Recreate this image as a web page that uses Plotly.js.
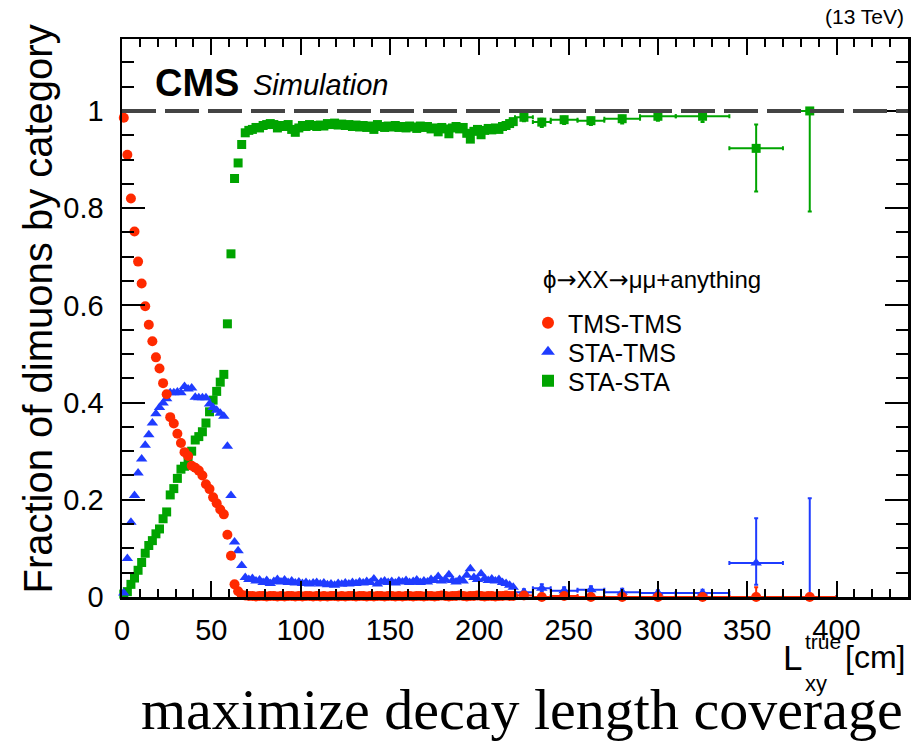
<!DOCTYPE html>
<html><head><meta charset="utf-8">
<script src="https://cdn.plot.ly/plotly-3.0.1.min.js"></script>
<style>html,body{margin:0;padding:0;background:#fff}</style>
</head><body><div id="plot" style="width:922px;height:745px"></div>
<script>
// ---- data: 2 cm bins (centres) ----
const fineX = [1,3,5,7,9,11,13,15,17,19,21,23,25,27,29,31,33,35,37,39,41,43,45,47,49,51,53,55,57,59,61,63,65,67,
  69,71,73,75,77,79,81,83,85,87,89,91,93,95,97,99,101,103,105,107,109,111,113,115,117,119,121,123,125,127,129,131,133,135,137,139,
  141,143,145,147,149,151,153,155,157,159,161,163,165,167,169,171,173,175,177,179,181,183,185,187,189,191,193,195,197,199,
  201,203,205,207,209,211,213,215,217,219];
const tmsTmsFine = [0.986,0.91,0.82,0.752,0.69,0.645,0.598,0.56,0.526,0.493,0.47,0.44,0.417,0.37,0.357,0.336,0.317,0.298,0.29,0.27,
  0.266,0.26,0.25,0.232,0.222,0.205,0.193,0.18,0.17,0.128,0.085,0.026,0.012,0.004,
  0.003,0.002,0.002,0.001,0.002,0.002,0.001,0.002,0.002,0.001,
  0.002,0.001,0.002,0.002,0.001,0.002,0.001,0.002,0.002,0.001,
  0.002,0.001,0.002,0.001,0.002,0.002,0.001,0.002,0.001,0.002,
  0.002,0.001,0.002,0.002,0.001,0.002,0.001,0.002,0.002,0.001,
  0.002,0.002,0.001,0.002,0.001,0.002,0.002,0.001,0.002,0.002,
  0.001,0.002,0.002,0.001,0.002,0.003,0.002,0.001,0.002,0.002,
  0.003,0.002,0.001,0.002,0.002,0.003,0.002,0.001,0.002,0.002,
  0.001,0.002,0.002,0.003,0.002,0.002];
const staTmsFine = [0.008,0.079,0.154,0.209,0.255,0.284,0.312,0.334,0.358,0.377,0.39,0.399,0.408,0.42,0.42,0.422,0.42,0.433,0.428,0.43,
  0.411,0.41,0.41,0.41,0.397,0.39,0.384,0.378,0.372,0.31,0.209,0.113,0.095,0.065,
  0.040,0.036,0.038,0.033,0.035,0.030,0.034,0.028,0.032,0.036,
  0.031,0.035,0.030,0.033,0.029,0.031,0.028,0.030,0.027,0.029,
  0.030,0.027,0.029,0.025,0.027,0.024,0.028,0.026,0.029,0.027,
  0.030,0.028,0.031,0.029,0.032,0.030,0.037,0.027,0.031,0.033,
  0.030,0.032,0.029,0.033,0.031,0.034,0.030,0.032,0.035,0.030,
  0.033,0.031,0.036,0.034,0.042,0.033,0.036,0.046,0.034,0.031,
  0.036,0.033,0.045,0.058,0.040,0.036,0.048,0.038,0.034,0.037,
  0.033,0.036,0.030,0.028,0.024,0.020];
const staStaFine = [0.006,0.011,0.026,0.039,0.055,0.071,0.09,0.106,0.116,0.13,0.14,0.161,0.175,0.21,0.223,0.244,0.263,0.269,0.282,0.30,
  0.323,0.33,0.34,0.358,0.381,0.405,0.423,0.442,0.458,0.562,0.706,0.861,0.893,0.931,
  0.955,0.960,0.962,0.966,0.965,0.970,0.972,0.974,0.972,0.965,
  0.970,0.968,0.972,0.962,0.956,0.965,0.970,0.968,0.972,0.970,
  0.968,0.971,0.969,0.974,0.972,0.975,0.971,0.973,0.970,0.972,
  0.968,0.971,0.967,0.970,0.966,0.969,0.962,0.972,0.968,0.966,
  0.969,0.967,0.970,0.966,0.968,0.965,0.969,0.967,0.964,0.969,
  0.966,0.968,0.963,0.965,0.957,0.966,0.963,0.953,0.965,0.968,
  0.963,0.966,0.954,0.942,0.958,0.962,0.951,0.960,0.964,0.961,
  0.965,0.962,0.968,0.970,0.974,0.978];

// ---- data: wide bins ----
const wideX = [225,235,247.5,262.5,280,300,325,355,385];
const wideHalf = [5,5,7.5,7.5,10,10,15,15,15];
const tmsTmsWide = [0.003,0.0,0.002,0.0,0.0,0.0,0.0,0.0,0.0];
const tmsTmsWideUp = [0.004,0.003,0.004,0.003,0.003,0.003,0.003,0.02,0.0];
const tmsTmsWideDn = [0.003,0.0,0.002,0.0,0.0,0.0,0.0,0.0,0.0];
const staTmsWide = [0.010,0.018,0.013,0.015,0.010,0.008,0.008,0.070,0.0];
const staTmsWideUp = [0.006,0.008,0.007,0.007,0.007,0.006,0.007,0.092,0.203];
const staTmsWideDn = [0.004,0.006,0.005,0.005,0.004,0.004,0.004,0.045,0.0];
const staStaWide = [0.987,0.977,0.982,0.980,0.984,0.989,0.989,0.923,1.0];
const staStaWideUp = [0.005,0.007,0.006,0.006,0.006,0.005,0.006,0.049,0.0];
const staStaWideDn = [0.008,0.010,0.009,0.009,0.010,0.009,0.012,0.089,0.207];

const yTickVals = [0,0.2,0.4,0.6,0.8,1];
const yTickText = ['0','0.2','0.4','0.6','0.8','1'];
const xTickVals = [0,50,100,150,200,250,300,350,400];
const seriesNames = ['TMS-TMS','STA-TMS','STA-STA'];

// ---- styling ----
const RED = '#ff2a00', BLUE = '#1f3cff', GREEN = '#00a400';
const FONT = 'Liberation Sans, Arial, Helvetica, sans-serif';
const L = 122, R = 908, T = 39, B = 597;
const px = x => (x - L) / (R - L);
const py = y => (B - y) / (B - T);
const ARROW = '<span style="font-family:DejaVu Sans">→</span>';

function fine(y, color, symbol, size, legend, name) {
  return {x: fineX, y: y, type: 'scatter', mode: 'markers', name: name, legend: legend,
    cliponaxis: false,
    marker: {color: color, symbol: symbol, size: size, line: {width: 0}}};
}
function wide(y, up, dn, color, symbol, size, legend) {
  return {x: wideX, y: y, type: 'scatter', mode: 'markers', showlegend: false, legend: legend,
    cliponaxis: false,
    marker: {color: color, symbol: symbol, size: size, line: {width: 0}},
    error_x: {type: 'data', array: wideHalf, color: color, thickness: 2, width: 2},
    error_y: {type: 'data', symmetric: false, array: up, arrayminus: dn, color: color, thickness: 2, width: 2}};
}

const traces = [
  fine(staStaFine, GREEN, 'square', 9, 'legend3', seriesNames[2]),
  wide(staStaWide, staStaWideUp, staStaWideDn, GREEN, 'square', 9, 'legend3'),
  fine(staTmsFine, BLUE, 'triangle-up', 10, 'legend2', seriesNames[1]),
  wide(staTmsWide, staTmsWideUp, staTmsWideDn, BLUE, 'triangle-up', 10, 'legend2'),
  fine(tmsTmsFine, RED, 'circle', 10, 'legend', seriesNames[0]),
  wide(tmsTmsWide, tmsTmsWideUp, tmsTmsWideDn, RED, 'circle', 10, 'legend')
];

const legBase = {xanchor: 'left', yanchor: 'middle', bgcolor: 'rgba(0,0,0,0)', borderwidth: 0,
  font: {family: FONT, size: 25, color: '#000'}, itemsizing: 'constant', x: px(528)};

const layout = {
  width: 922, height: 745,
  margin: {l: L, r: 922 - R, t: T, b: 745 - B, pad: 0},
  paper_bgcolor: '#fff', plot_bgcolor: '#fff',
  showlegend: true,
  legend: Object.assign({}, legBase, {y: py(323)}),
  legend2: Object.assign({}, legBase, {y: py(352)}),
  legend3: Object.assign({}, legBase, {y: py(381)}),
  xaxis: {range: [0, 440], tickvals: xTickVals, ticks: 'inside', ticklen: 16, tickwidth: 2, tickcolor: '#000',
    showline: true, linewidth: 2.5, linecolor: '#000', mirror: 'allticks', showgrid: false, zeroline: false,
    minor: {dtick: 10, tick0: 0, ticks: 'inside', ticklen: 8, tickwidth: 2, tickcolor: '#000', showgrid: false},
    tickfont: {family: FONT, size: 29, color: '#000'}, ticklabelstandoff: 6},
  yaxis: {range: [0, 1.148], tickvals: yTickVals, ticktext: yTickText, ticks: 'inside', ticklen: 23, tickwidth: 2, tickcolor: '#000',
    showline: true, linewidth: 2.5, linecolor: '#000', mirror: 'allticks', showgrid: false, zeroline: false,
    minor: {dtick: 0.05, tick0: 0, ticks: 'inside', ticklen: 12, tickwidth: 2, tickcolor: '#000', showgrid: false},
    tickfont: {family: FONT, size: 29, color: '#000'}, ticklabelstandoff: 10},
  shapes: [{type: 'line', xref: 'paper', x0: 0, x1: 1, yref: 'y', y0: 1, y1: 1,
    line: {color: '#444', width: 4, dash: '34px,9px'}, layer: 'above'}],
  annotations: [
    {text: '<b>CMS</b>', xref: 'paper', yref: 'paper', x: px(153), y: py(83), xanchor: 'left', yanchor: 'middle',
      showarrow: false, font: {family: FONT, size: 38, color: '#000'}},
    {text: '<i>Simulation</i>', xref: 'paper', yref: 'paper', x: px(251), y: py(85), xanchor: 'left', yanchor: 'middle',
      showarrow: false, font: {family: FONT, size: 29, color: '#000'}},
    {text: '(13 TeV)', xref: 'paper', yref: 'paper', x: px(906), y: py(17), xanchor: 'right', yanchor: 'middle',
      showarrow: false, font: {family: FONT, size: 21, color: '#000'}},
    {text: 'ϕ' + ARROW + 'XX' + ARROW + 'μμ+anything', xref: 'paper', yref: 'paper', x: px(541), y: py(280), xanchor: 'left', yanchor: 'middle',
      showarrow: false, font: {family: FONT, size: 24, color: '#000'}},
    {text: 'Fraction of dimuons by category', xref: 'paper', yref: 'paper', x: px(37), y: py(23), xanchor: 'center', yanchor: 'top',
      textangle: -90, showarrow: false, font: {family: FONT, size: 40, color: '#000'}},
    {text: 'L', xref: 'paper', yref: 'paper', x: px(781), y: py(657), xanchor: 'left', yanchor: 'middle',
      showarrow: false, font: {family: FONT, size: 35, color: '#000'}},
    {text: 'true', xref: 'paper', yref: 'paper', x: px(803), y: py(641), xanchor: 'left', yanchor: 'middle',
      showarrow: false, font: {family: FONT, size: 21, color: '#000'}},
    {text: 'xy', xref: 'paper', yref: 'paper', x: px(803), y: py(683), xanchor: 'left', yanchor: 'middle',
      showarrow: false, font: {family: FONT, size: 22, color: '#000'}},
    {text: '[cm]', xref: 'paper', yref: 'paper', x: px(907), y: py(657), xanchor: 'right', yanchor: 'middle',
      showarrow: false, font: {family: FONT, size: 32, color: '#000'}},
    {text: 'maximize decay length coverage', xref: 'paper', yref: 'paper', x: px(905), y: py(709), xanchor: 'right', yanchor: 'middle',
      showarrow: false, font: {family: 'Liberation Serif, Times New Roman, serif', size: 58, color: '#000'}}
  ]
};

Plotly.newPlot('plot', traces, layout, {displayModeBar: false, staticPlot: true});
</script>
</body></html>
